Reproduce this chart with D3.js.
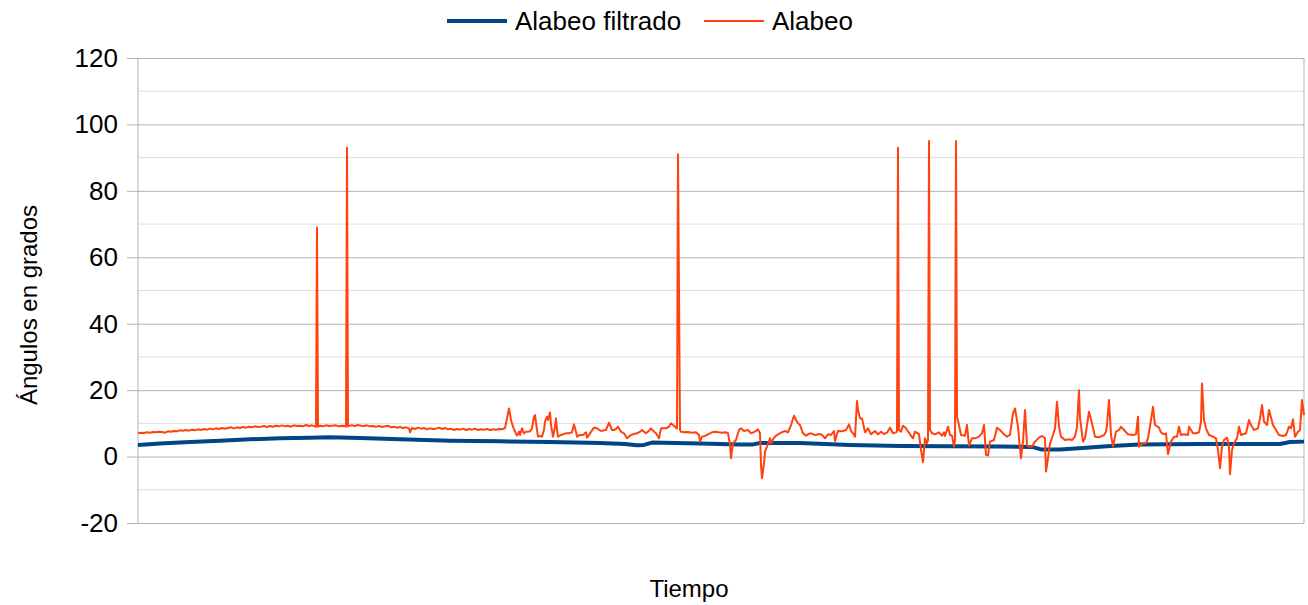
<!DOCTYPE html>
<html><head><meta charset="utf-8">
<script src="https://cdn.jsdelivr.net/npm/d3@7"></script>
<style>body{margin:0;background:#fff}svg{display:block;font-family:"Liberation Sans",Arial,sans-serif}</style>
</head><body><svg id="c" width="1308" height="605"></svg>
<script>
const seriesNames = ["Alabeo filtrado", "Alabeo"];
const yTicks = [-20, 0, 20, 40, 60, 80, 100, 120];
const yMinor = [-10, 10, 30, 50, 70, 90, 110];

const tiempoFiltrado = [0,22,52,82,112,142,172,192,222,262,312,362,412,462,487,499,506,514,562,602,614,622,662,712,762,812,862,894,904,922,941,969,1001,1062,1142,1152,1166];
const alabeoFiltrado = [3.5,3.9,4.4,4.8,5.2,5.5,5.7,5.8,5.6,5.2,4.8,4.6,4.4,4.1,3.8,3.4,3.5,4.2,3.9,3.6,3.6,4.1,4.1,3.5,3.2,3.1,3.0,2.9,2.1,2.1,2.5,3.1,3.6,3.8,3.8,4.4,4.5];

const tiempoAlabeo = [0,3,6,9,12,15,18,21,24,27,30,33,36,39,42,45,48,51,54,57,60,63,66,69,72,75,78,81,84,87,90,93,96,99,102,105,108,111,114,117,120,123,126,129,132,135,138,141,144,147,150,153,156,159,162,165,168,171,174,177,178,179,180,182,185,188,191,194,
198,201,204,207,208,209,210,211,214,217,220,223,226,229,232,235,238,241,244,247,250,253,256,259,262,265,268,271,272,274,277,280,283,286,289,292,295,298,301,304,307,310,313,316,319,322,325,328,331,334,337,340,343,346,349,352,355,358,361,364,367,369,371,373,375,377,379,381,382,384,386,388,
390,392,394,396,397,399,400,402,404,406,407,409,410,412,413,415,417,418,419,420,423,426,428,431,434,436,438,439,442,445,448,449,452,456,459,463,466,468,471,474,476,478,480,483,486,489,491,493,496,499,502,504,506,508,511,513,516,518,521,523,526,528,531,533,536,538,539,540,542,543,546,550,554,558,561,562,564,567,569,572,574,577,581,
584,587,590,592,593,595,598,601,603,606,610,613,617,620,622,623,624,626,627,629,632,633,635,637,640,643,647,650,653,656,658,660,662,665,668,670,673,676,678,681,683,685,687,690,693,696,697,700,703,705,708,711,713,715,717,719,720,722,724,727,730,733,737,740,743,746,749,752,755,758,759,760,761,763,765,768,772,775,
777,781,783,785,787,789,790,791,792,794,797,801,804,806,807,810,812,814,816,817,818,819,821,823,827,829,831,834,837,841,844,846,848,850,852,856,859,862,866,869,872,875,877,880,881,883,885,887,889,891,894,897,901,904,907,908,910,912,915,917,919,921,923,927,931,934,937,939,941,942,945,947,951,954,957,961,966,968,969,
971,973,975,978,981,983,986,990,995,998,1000,1001,1005,1008,1010,1013,1015,1017,1021,1023,1026,1028,1030,1033,1036,1039,1041,1043,1046,1050,1051,1055,1058,1061,1063,1064,1066,1068,1071,1075,1078,1080,1082,1084,1086,1089,1091,1092,1094,1096,1099,1101,1103,1105,1108,1111,1113,1116,1120,1122,1124,1126,1129,1131,1135,1138,1141,1145,1148,1151,1153,1155,1157,1160,1162,1164,1166];
const alabeo = [7.0,7.2,7.1,7.3,7.2,7.4,7.3,7.5,7.4,7.2,7.6,7.5,7.7,7.6,7.9,7.8,8.0,7.8,8.1,7.9,8.2,8.0,8.3,8.1,8.4,8.2,8.5,8.3,8.6,8.4,8.6,8.8,8.5,8.8,8.6,8.9,8.7,9.0,8.8,9.1,8.9,9.0,9.2,8.9,9.2,9.0,9.3,9.1,9.4,9.1,9.3,9.0,9.4,9.2,9.3,9.1,9.5,9.2,9.4,9.1,9.0,69.0,9.0,9.3,9.1,9.4,9.2,9.3,
9.4,9.1,9.3,9.2,9.0,93.0,9.1,9.3,9.4,9.2,9.5,9.3,9.2,9.4,9.1,9.2,9.0,9.2,8.9,9.1,9.3,8.8,9.0,8.7,8.9,8.6,8.8,8.5,7.3,8.6,8.3,8.7,8.4,8.6,8.2,8.5,8.3,8.4,8.7,8.3,8.6,8.2,8.4,8.0,8.3,8.1,8.4,8.0,8.3,8.1,8.4,8.0,8.2,8.1,8.3,8.0,8.2,8.1,8.3,8.2,8.6,11.5,14.5,11.0,9.0,7.5,6.3,7.5,6.5,8.5,7.0,7.5,
7.5,7.6,8.5,12.0,12.5,8.0,6.0,6.2,6.0,8.0,10.5,12.0,11.0,13.3,9.5,6.0,9.0,11.5,8.0,6.0,6.5,6.8,7.0,7.0,7.3,9.7,7.5,6.0,6.5,6.5,7.3,5.7,7.0,8.7,8.5,7.7,7.9,8.0,10.2,8.0,8.0,8.3,9.0,7.5,7.0,5.5,6.0,6.5,6.8,7.0,7.5,8.0,7.5,7.0,7.8,8.5,7.5,7.0,5.5,8.5,8.5,8.5,9.0,10.0,9.3,8.7,8.5,91.0,8.0,7.5,7.3,7.4,7.2,7.3,6.5,4.5,6.0,6.2,6.5,7.0,7.3,7.5,7.3,
7.2,7.3,7.1,3.5,-0.5,4.0,5.0,8.0,8.5,7.7,8.0,7.0,7.5,8.2,7.0,-2.5,-6.5,-2.0,1.5,3.0,5.5,4.0,5.2,6.0,6.7,7.2,7.7,7.3,9.5,12.3,11.0,10.0,9.5,7.0,6.3,6.7,7.0,6.6,6.5,6.8,6.7,6.2,5.5,6.7,6.5,7.7,4.7,7.7,7.6,7.7,8.0,9.7,7.7,7.0,6.0,16.7,14.0,11.5,11.5,7.3,8.5,6.7,7.7,6.7,7.5,6.8,7.2,8.7,7.0,7.3,7.5,93.0,8.0,7.5,9.3,8.5,6.7,5.5,
7.5,6.7,2.0,-1.7,5.5,4.0,5.0,95.0,8.0,7.0,6.7,7.3,6.3,7.3,6.2,9.0,6.5,6.3,3.0,5.0,95.0,12.0,9.5,6.5,6.3,9.5,3.3,5.5,5.5,6.0,7.0,9.5,0.5,0.3,4.5,5.0,8.7,8.0,6.7,6.0,6.5,13.0,14.5,9.0,5.5,-0.5,4.5,14.0,3.5,3.0,3.0,4.5,5.7,6.2,5.5,-4.5,-0.5,4.0,6.5,8.5,16.5,9.0,6.0,5.0,5.2,5.0,6.0,9.0,20.0,11.5,4.5,5.5,13.5,10.0,6.0,5.8,6.5,7.5,9.5,
17.0,6.5,3.0,7.5,8.0,9.0,8.0,6.7,6.5,6.7,12.0,3.0,4.0,4.0,5.5,11.0,15.0,9.5,8.7,7.3,6.7,7.0,0.7,4.5,6.0,6.0,9.0,6.5,6.7,6.5,9.0,7.0,7.0,7.3,10.5,22.0,11.0,8.5,6.5,6.0,5.5,2.0,-3.5,3.0,5.0,5.7,3.0,-5.3,2.0,4.0,5.5,9.0,6.5,6.7,7.0,11.0,9.5,8.0,8.5,11.5,15.5,10.5,9.5,14.0,9.5,8.0,6.5,6.2,6.5,9.0,8.5,11.2,6.0,7.5,8.0,17.0,12.5];

const colors = ["#004586", "#ff420e"];
const svg = d3.select("#c");
const m = {left: 138, right: 1304, top: 58, bottom: 523};
const x = d3.scaleLinear().domain([0, 1166]).range([m.left, m.right]);
const y = d3.scaleLinear().domain([-20, 120]).range([m.bottom, m.top]);

// minor gridlines
svg.append("g").selectAll("line").data(yMinor).join("line")
  .attr("x1", m.left).attr("x2", m.right)
  .attr("y1", d => y(d)).attr("y2", d => y(d))
  .attr("stroke", "#dddddd").attr("stroke-width", 1);

// major gridlines (extend 11px left of the plot as outer ticks)
const yGrid = d3.axisLeft(y).tickValues(yTicks).tickSize(-(m.right - m.left + 11)).tickFormat("");
const gy = svg.append("g").attr("transform", `translate(${m.left - 11},0)`).call(yGrid);
gy.select(".domain").remove();
gy.selectAll(".tick line").attr("stroke", "#b3b3b3").attr("stroke-width", 1);

const yl = d3.axisLeft(y).tickValues(yTicks).tickSize(0).tickPadding(20).tickFormat(d => d < 0 ? "-" + Math.abs(d) : d);
const gl = svg.append("g").attr("transform", `translate(${m.left},0)`).call(yl);
gl.select(".domain").remove();
gl.selectAll(".tick text").attr("font-size", 26).attr("fill", "#000").attr("font-family", '"Liberation Sans", Arial, sans-serif');

// frame
svg.append("line").attr("x1", m.left).attr("x2", m.left).attr("y1", m.top).attr("y2", m.bottom).attr("stroke", "#b3b3b3");
svg.append("line").attr("x1", m.right).attr("x2", m.right).attr("y1", m.top).attr("y2", m.bottom).attr("stroke", "#b3b3b3");

const plot = svg.append("g");
const lineF = d3.line().x((d, i) => x(tiempoFiltrado[i])).y(d => y(d));
const lineA = d3.line().x((d, i) => x(tiempoAlabeo[i])).y(d => y(d));
plot.append("path").datum(alabeoFiltrado).attr("d", lineF).attr("fill", "none")
  .attr("stroke", colors[0]).attr("stroke-width", 4).attr("stroke-linejoin", "round");
plot.append("path").datum(alabeo).attr("d", lineA).attr("fill", "none")
  .attr("stroke", colors[1]).attr("stroke-width", 2).attr("stroke-linejoin", "round");

// legend
const leg = svg.append("g");
const legItems = [{name: seriesNames[0], x0: 447, w: 4}, {name: seriesNames[1], x0: 704, w: 2}];
legItems.forEach((it, i) => {
  leg.append("line").attr("x1", it.x0).attr("x2", it.x0 + 60).attr("y1", 21).attr("y2", 21)
    .attr("stroke", colors[i]).attr("stroke-width", it.w);
  leg.append("text").attr("x", it.x0 + 68).attr("y", 30).attr("font-size", 26).text(it.name);
});

// axis titles
svg.append("text").attr("x", 689).attr("y", 597).attr("text-anchor", "middle").attr("font-size", 24).text("Tiempo");
svg.append("text").attr("transform", "translate(37,305) rotate(-90)").attr("text-anchor", "middle").attr("font-size", 24).text("Ángulos  en grados");
</script></body></html>
